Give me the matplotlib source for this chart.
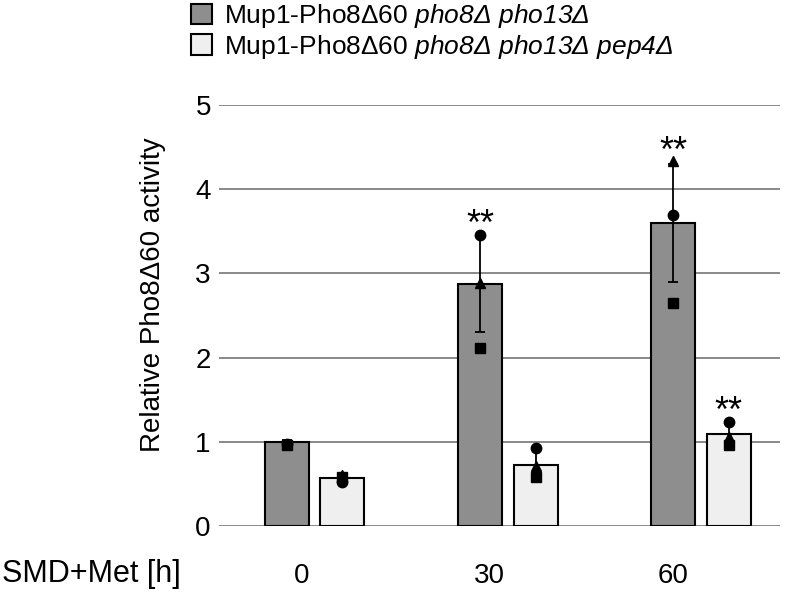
import matplotlib
matplotlib.use('Agg')
import matplotlib.pyplot as plt
from matplotlib.patches import Patch
import numpy as np

plt.rcParams['font.family'] = ['Liberation Sans', 'DejaVu Sans']
plt.rcParams['mathtext.fontset'] = 'custom'
plt.rcParams['mathtext.rm'] = 'Liberation Sans:italic'
plt.rcParams['mathtext.it'] = 'Liberation Sans:italic'

# Data
times = ['0', '30', '60']
strains = ['Mup1-Pho8Δ60 $pho8Δ$ $pho13Δ$',
           'Mup1-Pho8Δ60 $pho8Δ$ $pho13Δ$ $pep4Δ$']

mean_ctrl = [1.00, 2.87, 3.60]
sd_ctrl = [0.02, 0.57, 0.70]
mean_pep4 = [0.57, 0.73, 1.09]
sd_pep4 = [0.05, 0.20, 0.14]

# individual replicates (circle, triangle, square)
circle_ctrl = [0.97, 3.46, 3.69]
triangle_ctrl = [0.97, 2.89, 4.33]
square_ctrl = [0.965, 2.11, 2.65]
circle_pep4 = [0.52, 0.93, 1.235]
triangle_pep4 = [0.60, 0.71, 1.06]
square_pep4 = [0.58, 0.58, 0.96]

signif_ctrl = ['', '**', '**']
signif_pep4 = ['', '', '**']

dark = '#8e8e8e'
light = '#efefef'

fig = plt.figure(figsize=(8, 5.92), dpi=100)
ax = fig.add_axes([0.274, 0.1115, 0.701, 0.711])

x = np.arange(len(times))
w = 0.228
off = 0.1436

ax.bar(x - off, mean_ctrl, w, color=dark, edgecolor='black', linewidth=1.5, zorder=2)
ax.bar(x + off, mean_pep4, w, color=light, edgecolor='black', linewidth=1.5, zorder=2)

for xs, m, s in [(x - off, mean_ctrl, sd_ctrl), (x + off, mean_pep4, sd_pep4)]:
    ax.errorbar(xs, m, yerr=s, fmt='none', ecolor='black', elinewidth=1.3,
                capsize=3.5, capthick=1.3, zorder=3)

ms = 7.5
for xs, c, t, q in [(x - off, circle_ctrl, triangle_ctrl, square_ctrl),
                    (x + off, circle_pep4, triangle_pep4, square_pep4)]:
    ax.plot(xs, c, 'o', color='black', ms=ms, zorder=4, clip_on=False)
    ax.plot(xs, t, '^', color='black', ms=ms, zorder=4, clip_on=False)
    ax.plot(xs, q, 's', color='black', ms=ms, zorder=4, clip_on=False)

for xs, m, s, pts, sig in [(x - off, mean_ctrl, sd_ctrl, (circle_ctrl, triangle_ctrl, square_ctrl), signif_ctrl),
                           (x + off, mean_pep4, sd_pep4, (circle_pep4, triangle_pep4, square_pep4), signif_pep4)]:
    for i in range(len(xs)):
        if sig[i]:
            top = max(m[i] + s[i], *(p[i] for p in pts))
            ax.text(xs[i], top, sig[i], ha='center', va='baseline',
                    fontsize=26, zorder=5)

ax.set_xlim(-0.494, 2.409)
ax.set_ylim(0, 5)
ax.set_yticks(range(6))
ax.tick_params(axis='y', length=0, pad=6, labelsize=20)
ax.grid(axis='y', color='#808080', linewidth=1.3, zorder=0)
ax.set_axisbelow(True)
for sp in ax.spines.values():
    sp.set_visible(False)

# x labels are offset from the bar groups in the original
ax.set_xticks([-0.065, 0.903, 1.855])
ax.set_xticklabels(times)
ax.tick_params(axis='x', length=0, pad=27, labelsize=20)

fig.text(2 / 800, 1 - 574 / 592, 'SMD+Met [h]', fontsize=22, ha='left', va='center')
fig.text(153 / 800, 1 - 295 / 592, 'Relative Pho8Δ60 activity', fontsize=20,
         rotation=90, ha='center', va='center')

handles = [Patch(facecolor=dark, edgecolor='black', linewidth=1.5),
           Patch(facecolor=light, edgecolor='black', linewidth=1.5)]
fig.legend(handles, strains, loc='upper left', bbox_to_anchor=(191 / 800, 1 - 2 / 592),
           frameon=False, fontsize=19, handlelength=0.8, handleheight=0.8,
           handletextpad=0.45, labelspacing=0.1, borderpad=0, borderaxespad=0)

fig.savefig('out.png', dpi=100)
